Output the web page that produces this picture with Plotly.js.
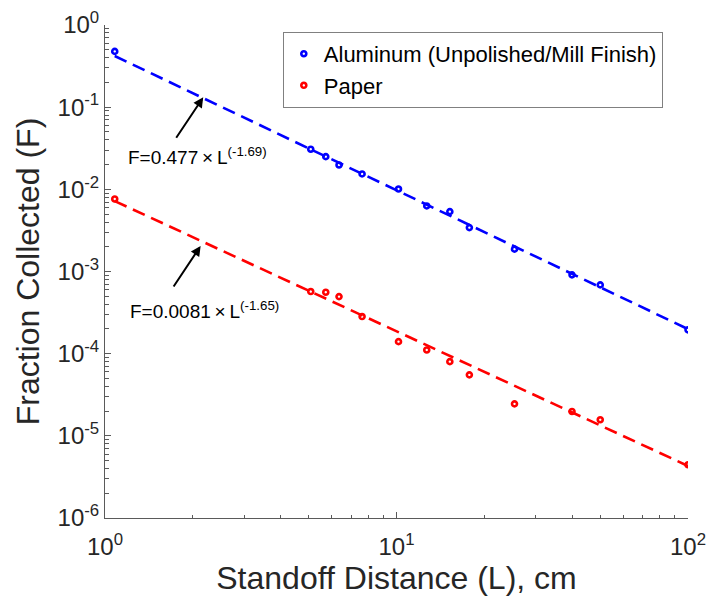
<!DOCTYPE html>
<html>
<head>
<meta charset="utf-8">
<script src="https://cdn.plot.ly/plotly-3.0.1.min.js"></script>
<style>html,body{margin:0;padding:0;background:#fff;}#chart{width:709px;height:599px;}</style>
</head>
<body>
<div id="chart"></div>
<script>
// Standoff distance L (cm)
const distance = [1.08, 5.08, 5.72, 6.35, 7.62, 10.16, 12.7, 15.24, 17.78, 25.4, 40, 50, 100];
// Fraction collected F
const aluminum = [0.477, 0.0308, 0.0250, 0.0198, 0.0154, 0.0101, 0.00628, 0.00535, 0.00342, 0.00187, 0.00091, 0.000687, 0.000195];
const paper = [0.00764, 0.00057, 0.00056, 0.000495, 0.000283, 0.00014, 0.000111, 0.000080, 0.0000552, 0.0000245, 0.0000198, 0.0000157, 0.00000444];
// Power-law fit lines (end points)
const fitL = [1.08, 100];
const fitAluminum = [0.42, 0.000199];
const fitPaper = [0.0072, 0.0000043];
// Tick labels
const xTickVals = [1, 10, 100];
const xTickText = ['10<sup>0</sup>', '10<sup>1</sup>', '10<sup>2</sup>'];
const yTickVals = [1, 0.1, 0.01, 0.001, 0.0001, 0.00001, 0.000001];
const yTickText = ['10<sup>0</sup>', '10<sup>-1</sup>', '10<sup>-2</sup>', '10<sup>-3</sup>', '10<sup>-4</sup>', '10<sup>-5</sup>', '10<sup>-6</sup>'];
const seriesNames = ['Aluminum (Unpolished/Mill Finish)', 'Paper'];
const fitLabels = ['F=0.477\u2009\u00D7\u2009L<sup>(-1.69)</sup>', 'F=0.0081\u2009\u00D7\u2009L<sup>(-1.65)</sup>'];

const xMinor = [];
const yMinor = [];
[1, 10].forEach(d => { for (let k = 2; k <= 9; k++) xMinor.push(k * d); });
[1e-6, 1e-5, 1e-4, 1e-3, 1e-2, 1e-1].forEach(d => { for (let k = 2; k <= 9; k++) yMinor.push(k * d); });

const FONT = '"Liberation Sans", Arial, Helvetica, sans-serif';
const BLUE = '#0000ff', RED = '#ff0000';

const traces = [
  {x: fitL, y: fitAluminum, mode: 'lines', line: {color: BLUE, width: 2.6, dash: '13px,7px'}, showlegend: false, hoverinfo: 'skip'},
  {x: fitL, y: fitPaper, mode: 'lines', line: {color: RED, width: 2.6, dash: '13px,7px'}, showlegend: false, hoverinfo: 'skip'},
  {x: distance, y: aluminum, mode: 'markers', name: seriesNames[0],
   marker: {symbol: 'circle-open', size: 5, color: BLUE, line: {color: BLUE, width: 2.6}}},
  {x: distance, y: paper, mode: 'markers', name: seriesNames[1],
   marker: {symbol: 'circle-open', size: 5, color: RED, line: {color: RED, width: 2.6}}}
];

const axisCommon = {
  type: 'log', showgrid: false, zeroline: false, showline: true, linecolor: '#5a5a5a', linewidth: 1,
  ticks: 'inside', ticklen: 6, tickcolor: '#5a5a5a', tickwidth: 1, mirror: false,
  tickfont: {family: FONT, size: 24, color: '#262626'}, tickmode: 'array'
};

const layout = {
  width: 709, height: 599,
  margin: {l: 105, r: 21, t: 25, b: 81},
  paper_bgcolor: '#fff', plot_bgcolor: '#fff',
  font: {family: FONT, color: '#262626'},
  xaxis: Object.assign({}, axisCommon, {
    range: [0, 2], tickvals: xTickVals, ticktext: xTickText, ticklabelstandoff: 7,
    minor: {tickmode: 'array', tickvals: xMinor, ticks: 'inside', ticklen: 3.5, tickcolor: '#5a5a5a', tickwidth: 1},
    title: {text: 'Standoff Distance (L), cm', font: {family: FONT, size: 32, color: '#262626'}, standoff: 6}
  }),
  yaxis: Object.assign({}, axisCommon, {
    range: [-6, 0], tickvals: yTickVals, ticktext: yTickText,
    minor: {tickmode: 'array', tickvals: yMinor, ticks: 'inside', ticklen: 3.5, tickcolor: '#5a5a5a', tickwidth: 1},
    title: {text: 'Fraction Collected (F)', font: {family: FONT, size: 32, color: '#262626'}, standoff: 8}
  }),
  legend: {
    x: 0.305, y: 0.986, xanchor: 'left', yanchor: 'top',
    bgcolor: '#fff', bordercolor: '#808080', borderwidth: 1,
    font: {family: FONT, size: 22, color: '#000'}, tracegroupgap: 0, itemwidth: 30
  },
  annotations: [
    {x: 0.337, y: -0.88, xref: 'x', yref: 'y', ax: -28, ay: 42, showarrow: true,
     arrowhead: 2, arrowsize: 1, arrowwidth: 2, arrowcolor: '#000', text: ''},
    {x: 0.328, y: -2.689, xref: 'x', yref: 'y', ax: -28, ay: 42, showarrow: true,
     arrowhead: 2, arrowsize: 1, arrowwidth: 2, arrowcolor: '#000', text: ''},
    {x: 0.072, y: -1.594, xref: 'x', yref: 'y', xanchor: 'left', yanchor: 'middle', showarrow: false,
     text: fitLabels[0], font: {family: FONT, size: 19, color: '#000'}},
    {x: 0.078, y: -3.467, xref: 'x', yref: 'y', xanchor: 'left', yanchor: 'middle', showarrow: false,
     text: fitLabels[1], font: {family: FONT, size: 19, color: '#000'}}
  ]
};

Plotly.newPlot('chart', traces, layout, {displayModeBar: false, staticPlot: true});
</script>
</body>
</html>
